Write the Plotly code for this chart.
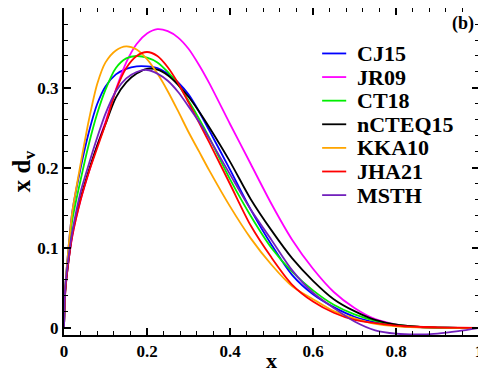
import plotly.graph_objects as go

x_vals = [0, 0.003, 0.01, 0.02, 0.04, 0.06, 0.08, 0.1, 0.125, 0.15, 0.175, 0.2, 0.225,
          0.25, 0.275, 0.3, 0.325, 0.35, 0.4, 0.45, 0.5, 0.55, 0.6, 0.65, 0.7, 0.75, 0.8,
          0.85, 0.9, 0.95, 1.0]

cj15 = [0, 0.050, 0.095, 0.145, 0.200, 0.245, 0.280, 0.302, 0.317, 0.324, 0.327, 0.327, 0.325,
        0.318, 0.307, 0.292, 0.271, 0.247, 0.198, 0.148, 0.104, 0.066, 0.042, 0.026, 0.014,
        0.007, 0.003, 0.001, 0.0004, 0.0001, 0]
jr09 = [0, 0.045, 0.080, 0.115, 0.160, 0.195, 0.228, 0.258, 0.298, 0.332, 0.355, 0.368, 0.3735,
        0.371, 0.363, 0.349, 0.329, 0.306, 0.255, 0.205, 0.155, 0.110, 0.074, 0.045, 0.025,
        0.011, 0.0045, 0.0015, 0.0005, 0.0001, 0]
ct18 = [0, 0.048, 0.090, 0.135, 0.185, 0.230, 0.268, 0.298, 0.325, 0.337, 0.340, 0.338, 0.332,
        0.320, 0.304, 0.284, 0.262, 0.238, 0.186, 0.140, 0.100, 0.070, 0.047, 0.029, 0.017,
        0.009, 0.004, 0.0015, 0.0005, 0.0001, 0]
ncteq15 = [0, 0.045, 0.080, 0.118, 0.162, 0.197, 0.228, 0.255, 0.288, 0.307, 0.318, 0.324, 0.323,
           0.316, 0.304, 0.289, 0.271, 0.251, 0.208, 0.161, 0.122, 0.087, 0.059, 0.036, 0.021,
           0.010, 0.004, 0.0015, 0.0005, 0.0001, 0]
kka10 = [0, 0.050, 0.095, 0.145, 0.205, 0.260, 0.305, 0.332, 0.347, 0.352, 0.348, 0.336, 0.318,
         0.296, 0.271, 0.245, 0.221, 0.197, 0.152, 0.112, 0.079, 0.052, 0.036, 0.021, 0.012,
         0.005, 0.002, 0.0008, 0.0003, 0.0001, 0]
jha21 = [0, 0.045, 0.080, 0.115, 0.160, 0.195, 0.225, 0.255, 0.297, 0.325, 0.340, 0.345, 0.340,
         0.326, 0.306, 0.282, 0.257, 0.232, 0.180, 0.128, 0.088, 0.054, 0.033, 0.019, 0.010,
         0.006, 0.003, 0.0015, 0.0008, 0.0003, 0]
msth = [0, 0.050, 0.085, 0.120, 0.170, 0.205, 0.238, 0.268, 0.296, 0.312, 0.320, 0.3225, 0.318,
        0.309, 0.295, 0.277, 0.258, 0.237, 0.192, 0.148, 0.110, 0.072, 0.044, 0.025, 0.008,
        -0.003, -0.0072, -0.0082, -0.007, -0.004, 0]

names = ["CJ15", "JR09", "CT18", "nCTEQ15", "KKA10", "JHA21", "MSTH"]
series = [cj15, jr09, ct18, ncteq15, kka10, jha21, msth]
colors = ["#0000ff", "#ff00ff", "#00ee00", "#000000", "#ffa500", "#ff0000", "#7221bc"]

x_ticks = [0, 0.2, 0.4, 0.6, 0.8, 1]
x_ticktext = ["0", "0.2", "0.4", "0.6", "0.8", "1"]
y_ticks = [0, 0.1, 0.2, 0.3, 0.4]
y_ticktext = ["0", "0.1", "0.2", "0.3", "0.4"]

serif = "Liberation Serif"

fig = go.Figure()
for name, ys, col in zip(names, series, colors):
    fig.add_trace(go.Scatter(
        x=x_vals, y=ys, name=name, mode="lines", showlegend=False,
        line=dict(color=col, width=1.8, shape="spline", smoothing=0.8),
    ))

# hand-drawn legend (xmgrace style: short line + big bold label), in paper units
leg_x0, leg_x1, leg_text_x = 0.622, 0.68, 0.702
leg_top, leg_step = 0.861, 0.0722
for i, (name, col) in enumerate(zip(names, colors)):
    yy = leg_top - i * leg_step
    fig.add_shape(type="line", xref="paper", yref="paper",
                  x0=leg_x0, x1=leg_x1, y0=yy, y1=yy,
                  line=dict(color=col, width=1.8))
    fig.add_annotation(x=leg_text_x, y=yy, xref="paper", yref="paper",
                       xanchor="left", yanchor="middle", showarrow=False,
                       text=f"<b>{name}</b>",
                       font=dict(family=serif, size=22, color="black"))

axis_common = dict(
    showline=True, linecolor="black", linewidth=2, mirror="allticks",
    ticks="inside", ticklen=7, tickwidth=1.5, tickcolor="black",
    showgrid=False, zeroline=False, automargin=False,
    tickfont=dict(family=serif, size=17, color="black", weight="bold"),
)

fig.update_xaxes(
    range=[0, 1], tickvals=x_ticks, ticktext=x_ticktext,
    minor=dict(dtick=0.04, ticks="inside", ticklen=4, tickwidth=1.2, tickcolor="black"),
    title=dict(text="<b>x</b>", font=dict(family=serif, size=22, color="black"), standoff=0),
    **axis_common,
)
fig.update_yaxes(
    range=[-0.0088, 0.4], tickvals=y_ticks, ticktext=y_ticktext,
    minor=dict(dtick=0.02, ticks="inside", ticklen=4, tickwidth=1.2, tickcolor="black"),
    title=dict(text="<b>x d<sub>v</sub></b>", font=dict(family=serif, size=25, color="black"), standoff=13),
    **axis_common,
)

fig.add_annotation(
    x=1, y=1, xref="paper", yref="paper", xanchor="right", yanchor="top",
    xshift=-3, yshift=-3, showarrow=False,
    text="<b>(b)</b>", font=dict(family=serif, size=18, color="black"),
)

# the page body adds an 8px margin, so the figure is a bit smaller than the window
fig.update_layout(
    width=478, height=365,
    margin=dict(l=56, r=7, t=0, b=38),
    paper_bgcolor="white", plot_bgcolor="white",
    showlegend=False,
)

fig.write_html("out.html")
